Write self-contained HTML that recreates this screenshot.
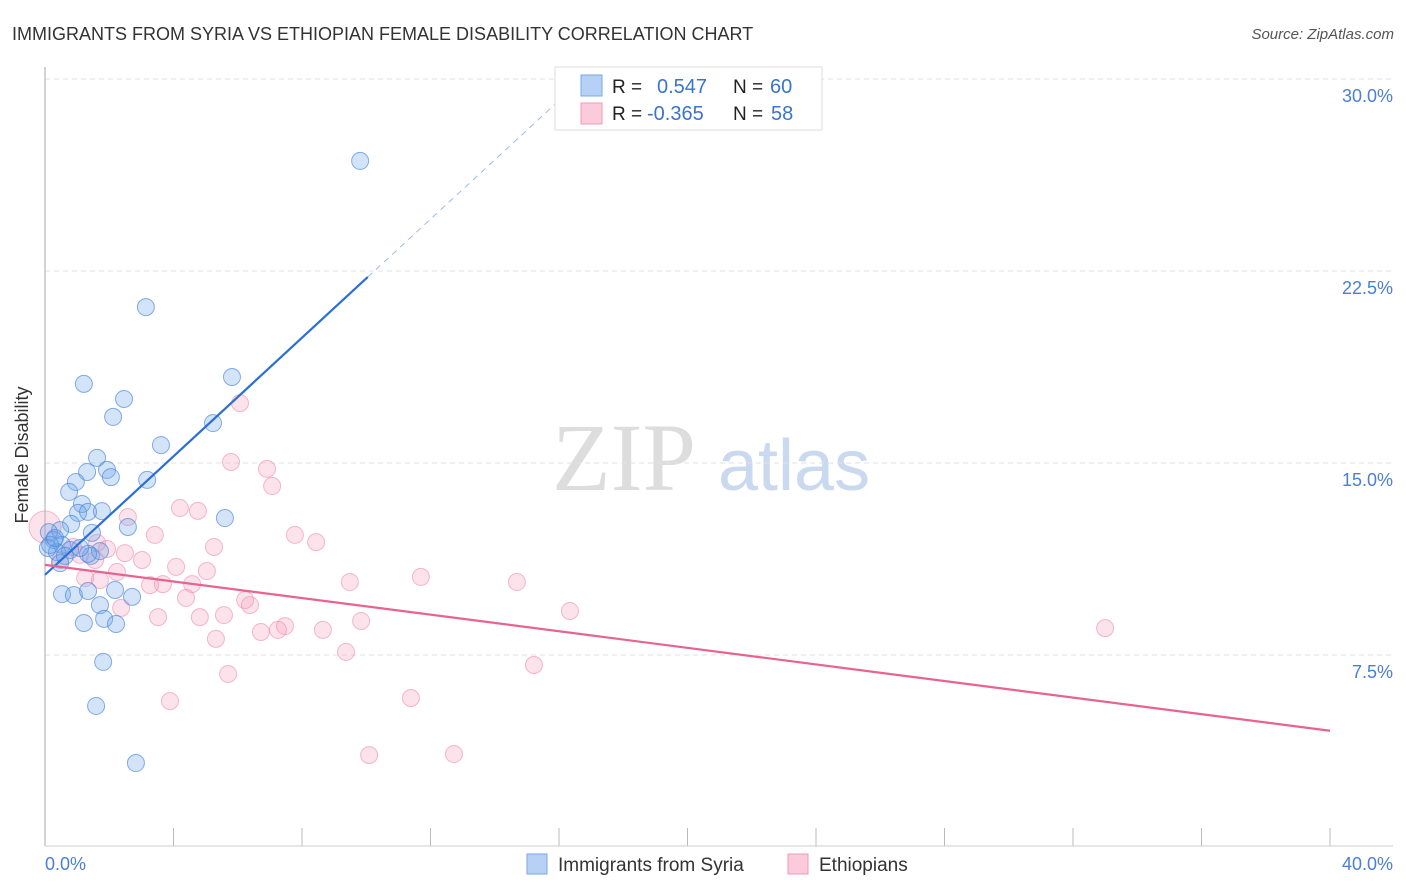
<!DOCTYPE html>
<html><head><meta charset="utf-8"><style>
body{margin:0;background:#fff;font-family:"Liberation Sans",sans-serif;}
svg{display:block}
</style></head><body>
<svg id="chart" width="1406" height="892">
<text x="12" y="40" font-size="18" fill="#333">IMMIGRANTS FROM SYRIA VS ETHIOPIAN FEMALE DISABILITY CORRELATION CHART</text>
<text x="1394" y="39" font-size="15" fill="#555" text-anchor="end" font-style="italic">Source: ZipAtlas.com</text>
<g>
<text x="552" y="490" font-size="96" fill="#ddd" font-family="Liberation Serif,serif">ZIP</text>
<text x="718" y="490" font-size="72" fill="#c9d9ef">atlas</text>
</g>
<g id="grid"></g>
<line x1="45" y1="67" x2="45" y2="846" stroke="#aaa"/>
<line x1="45" y1="846" x2="1393" y2="846" stroke="#ccc"/>
<text x="28" y="455" font-size="18" fill="#333" text-anchor="middle" transform="rotate(-90 28 455)">Female Disability</text>
<text x="45" y="870" font-size="18" fill="#4a7fd6">0.0%</text>
<text x="1393" y="870" font-size="18" fill="#4a7fd6" text-anchor="end">40.0%</text>
<g id="pts"></g>
<g id="lines"></g>
<g>
<rect x="555" y="67" width="267" height="63" fill="#fff" stroke="#ddd"/>
<rect x="581" y="75" width="21" height="21" fill="#b7d1f5" stroke="#7aa8ea"/>
<rect x="581" y="103" width="21" height="21" fill="#fbcadb" stroke="#f09ab8"/>
<text x="612" y="93" font-size="19" fill="#222">R = </text><text x="657" y="93" font-size="20" fill="#3a73d0">0.547</text>
<text x="733" y="93" font-size="19" fill="#222">N = </text><text x="770" y="93" font-size="20" fill="#3a73d0">60</text>
<text x="612" y="120" font-size="19" fill="#222">R = </text><text x="647" y="120" font-size="20" fill="#3a73d0">-0.365</text>
<text x="733" y="120" font-size="19" fill="#222">N = </text><text x="771" y="120" font-size="20" fill="#3a73d0">58</text>
</g>
<g>
<rect x="527" y="854" width="20" height="20" fill="#b7d1f5" stroke="#7aa8ea"/>
<text x="558" y="871" font-size="19" fill="#333">Immigrants from Syria</text>
<rect x="788" y="854" width="20" height="20" fill="#fbcadb" stroke="#f09ab8"/>
<text x="819" y="871" font-size="19" fill="#333">Ethiopians</text>
</g>
</svg>
<script>
const yTicks=[7.5,15,22.5,30];
const yTickLabels=["7.5%","15.0%","22.5%","30.0%"];
const xTicks=[0,4,8,12,16,20,24,28,32,36,40];
const syriaX=[9.81,3.14,1.21,5.82,2.46,2.12,5.23,3.61,1.62,1.31,1.93,2.05,3.18,0.96,0.75,1.15,1.77,1.03,1.34,5.6,2.58,0.81,0.47,1.46,0.12,0.28,0.53,0.09,0.37,0.78,1.43,1.71,0.47,1.34,2.18,0.53,0.9,1.34,2.71,1.71,1.84,1.21,2.21,1.81,1.59,2.83,0.16,0.62,1.09,0.31];
const syriaY=[26.8,21.09,18.09,18.36,17.5,16.8,16.56,15.7,15.2,14.65,14.73,14.45,14.34,14.26,13.87,13.4,13.12,13.05,13.09,12.85,12.5,12.62,12.38,12.27,12.3,11.99,11.8,11.68,11.52,11.6,11.37,11.56,11.09,11.45,10.04,9.88,9.84,10.0,9.77,9.45,8.91,8.75,8.71,7.23,5.51,3.28,11.8,11.37,11.68,12.07];
const ethX=[6.07,5.79,6.91,7.07,4.2,4.76,2.58,3.42,7.78,8.44,5.26,1.62,2.49,3.02,0.87,1.93,4.08,5.04,2.24,1.25,1.71,3.67,3.27,4.58,9.49,11.7,14.69,4.39,6.23,6.38,2.37,3.52,4.82,5.57,7.47,7.25,6.72,8.65,9.84,16.34,33.0,5.32,9.37,15.22,3.89,5.7,11.39,10.09,12.73,0.47,1.09,1.56,0];
const ethY=[17.34,15.04,14.77,14.1,13.24,13.13,12.89,12.19,12.19,11.91,11.72,11.88,11.48,11.21,11.72,11.64,10.94,10.78,10.74,10.51,10.43,10.27,10.23,10.27,10.35,10.55,10.35,9.73,9.65,9.45,9.34,8.98,8.98,9.06,8.63,8.48,8.4,8.48,8.83,9.22,8.55,8.13,7.62,7.11,5.7,6.76,5.82,3.59,3.63,11.21,11.41,11.21,12.5];
const syriaTrend=[10.63,1.158];
const ethTrend=[11.02,-0.162];
const X=v=>45+v*32.125, Y=v=>847-v*25.6;
const NS="http://www.w3.org/2000/svg";
const mk=(t,a,p)=>{const e=document.createElementNS(NS,t);for(const k in a)e.setAttribute(k,a[k]);p.appendChild(e);return e;};
const grid=document.getElementById('grid');
yTicks.forEach((v,i)=>{
 const l=mk('line',{x1:45,x2:1393,y1:Y(v),y2:Y(v),stroke:'#e2e2e2','stroke-dasharray':'5,4'},grid);
 
 
 const t=mk('text',{x:1393,y:Y(v)+23,'font-size':18,fill:'#4a7fd6','text-anchor':'end'},grid);
 t.textContent=yTickLabels[i];
 
 
});
xTicks.forEach(v=>{
 const l=mk('line',{x1:X(v),x2:X(v),y1:828,y2:846,stroke:'#bbb'},grid);
 
 
});
const pts=document.getElementById('pts');
ethX.forEach((x,i)=>{
 const c=mk('circle',{cx:X(x),cy:Y(ethY[i]),r:i==ethX.length-1?16:8.5,fill:'rgba(244,160,190,0.3)',stroke:'rgba(236,140,175,0.6)'},pts);
 
 
});
syriaX.forEach((x,i)=>{
 const c=mk('circle',{cx:X(x),cy:Y(syriaY[i]),r:8.5,fill:'rgba(110,165,235,0.3)',stroke:'rgba(70,130,220,0.65)'},pts);
 
 
});
const lines=document.getElementById('lines');
let l=mk('line',{x1:X(0),y1:Y(syriaTrend[0]),x2:X(10.05),y2:Y(syriaTrend[0]+syriaTrend[1]*10.05),stroke:'#2a6fd6','stroke-width':2.2},lines);


l=mk('line',{x1:X(10.05),y1:Y(syriaTrend[0]+syriaTrend[1]*10.05),x2:X(16),y2:Y(syriaTrend[0]+syriaTrend[1]*16),stroke:'#9bbce8','stroke-width':1,'stroke-dasharray':'6,5'},lines);


l=mk('line',{x1:X(0),y1:Y(ethTrend[0]),x2:X(40),y2:Y(ethTrend[0]+ethTrend[1]*40),stroke:'#e8638f','stroke-width':2.2},lines);


</script>
</body></html>
